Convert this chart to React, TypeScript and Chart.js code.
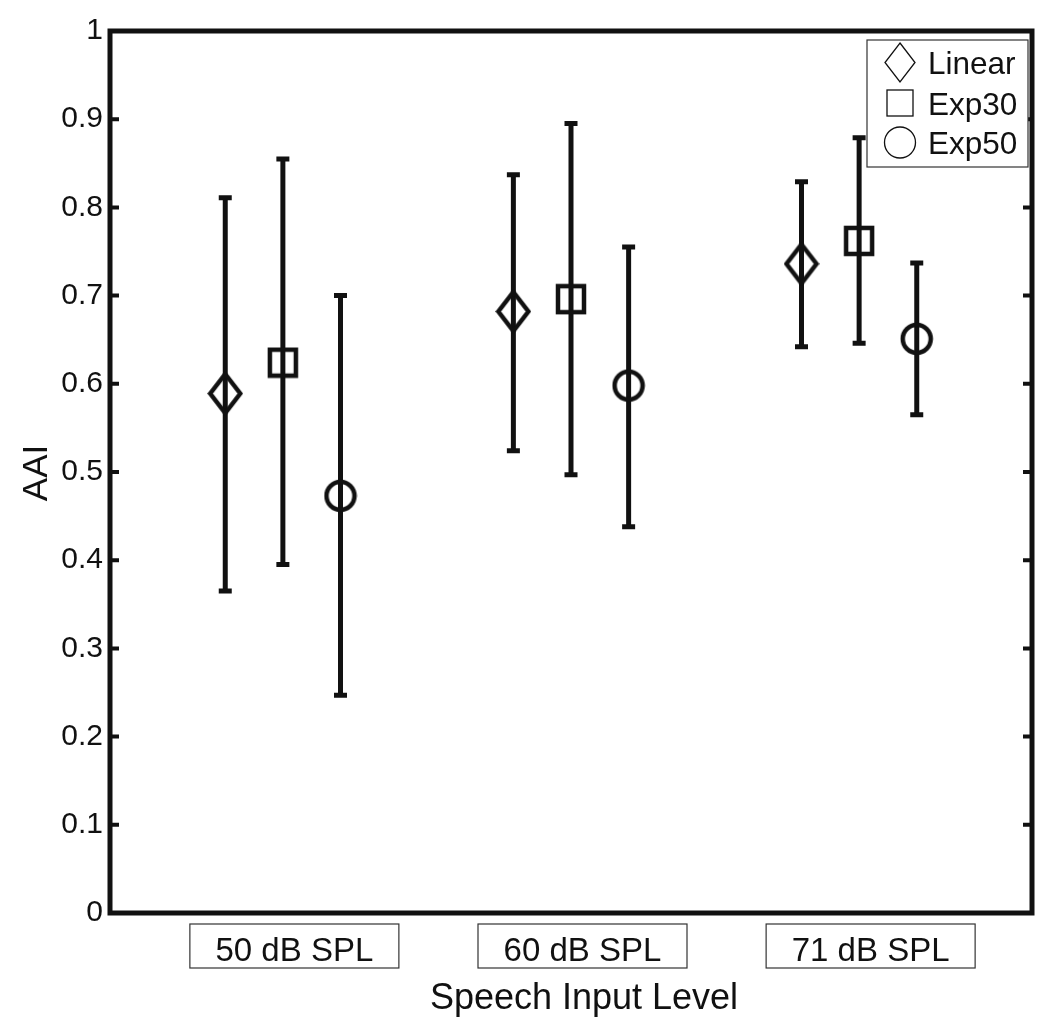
import React, { useEffect, useRef } from "react";
import { Chart, registerables } from "chart.js";

Chart.register(...registerables);

const CATEGORIES = ["50 dB SPL", "60 dB SPL", "71 dB SPL"];
const SERIES_NAMES = ["Linear", "Exp30", "Exp50"];

const LINEAR_MEAN = [0.589, 0.682, 0.736];
const LINEAR_LOW = [0.365, 0.524, 0.642];
const LINEAR_HIGH = [0.811, 0.837, 0.829];

const EXP30_MEAN = [0.624, 0.696, 0.762];
const EXP30_LOW = [0.395, 0.497, 0.646];
const EXP30_HIGH = [0.855, 0.895, 0.879];

const EXP50_MEAN = [0.473, 0.598, 0.651];
const EXP50_LOW = [0.247, 0.438, 0.565];
const EXP50_HIGH = [0.7, 0.755, 0.737];

const Y_AXIS_TITLE = "AAI";
const X_AXIS_TITLE = "Speech Input Level";

const FONT = "'Liberation Sans', Arial, Helvetica, sans-serif";
const INK = "#111";
const OFFSETS = [-0.2, 0, 0.2];

function makeMarker(kind: string): HTMLCanvasElement {
  const c = document.createElement("canvas");
  const lw = 4.5;
  let w = 0,
    h = 0;
  if (kind === "diamond") {
    w = 30;
    h = 39;
  } else if (kind === "square") {
    w = 26;
    h = 26;
  } else {
    w = 28;
    h = 28;
  }
  c.width = w + lw + 2;
  c.height = h + lw + 2;
  const ctx = c.getContext("2d")!;
  const cx = c.width / 2;
  const cy = c.height / 2;
  ctx.strokeStyle = INK;
  ctx.lineWidth = lw;
  ctx.lineJoin = "miter";
  ctx.beginPath();
  if (kind === "diamond") {
    ctx.moveTo(cx, cy - h / 2);
    ctx.lineTo(cx + w / 2, cy);
    ctx.lineTo(cx, cy + h / 2);
    ctx.lineTo(cx - w / 2, cy);
    ctx.closePath();
  } else if (kind === "square") {
    ctx.rect(cx - w / 2, cy - h / 2, w, h);
  } else {
    ctx.arc(cx, cy, w / 2, 0, Math.PI * 2);
  }
  ctx.stroke();
  return c;
}

const extrasPlugin = {
  id: "extras",
  beforeDatasetsDraw(chart: any) {
    const { ctx, scales } = chart;
    const xs = scales.x;
    const ys = scales.y;
    const lows = [LINEAR_LOW, EXP30_LOW, EXP50_LOW];
    const highs = [LINEAR_HIGH, EXP30_HIGH, EXP50_HIGH];
    ctx.save();
    ctx.strokeStyle = INK;
    ctx.lineWidth = 5;
    ctx.lineCap = "butt";
    for (let s = 0; s < 3; s++) {
      for (let i = 0; i < CATEGORIES.length; i++) {
        const x = xs.getPixelForValue(i + 1 + OFFSETS[s]);
        const y1 = ys.getPixelForValue(lows[s][i]);
        const y2 = ys.getPixelForValue(highs[s][i]);
        ctx.beginPath();
        ctx.moveTo(x, y1);
        ctx.lineTo(x, y2);
        ctx.stroke();
        ctx.beginPath();
        ctx.moveTo(x - 6.5, y1);
        ctx.lineTo(x + 6.5, y1);
        ctx.moveTo(x - 6.5, y2);
        ctx.lineTo(x + 6.5, y2);
        ctx.stroke();
      }
    }
    ctx.restore();
  },
  afterDraw(chart: any) {
    const { ctx, chartArea, scales } = chart;
    const xs = scales.x;
    const ys = scales.y;
    const { left, right, top, bottom } = chartArea;
    ctx.save();
    // frame
    ctx.strokeStyle = INK;
    ctx.lineWidth = 5;
    ctx.lineJoin = "miter";
    ctx.strokeRect(left, top, right - left, bottom - top);
    // inward ticks
    ctx.lineWidth = 4;
    ys.ticks.forEach((t: any) => {
      const y = ys.getPixelForValue(t.value);
      ctx.beginPath();
      ctx.moveTo(left, y);
      ctx.lineTo(left + 9, y);
      ctx.moveTo(right, y);
      ctx.lineTo(right - 9, y);
      ctx.stroke();
    });
    // category label boxes
    ctx.font = `33px ${FONT}`;
    ctx.fillStyle = INK;
    ctx.textAlign = "center";
    ctx.textBaseline = "alphabetic";
    CATEGORIES.forEach((label, i) => {
      const cx = xs.getPixelForValue(i + 1) + 11.5;
      ctx.lineWidth = 1.2;
      ctx.strokeStyle = "#333";
      ctx.strokeRect(cx - 104.5, bottom + 11, 209, 44);
      ctx.fillText(label, cx, bottom + 48);
    });
    // x title
    ctx.font = `36px ${FONT}`;
    ctx.fillText(X_AXIS_TITLE, (left + right) / 2 + 13, bottom + 96);
    // y title
    ctx.save();
    ctx.translate(47, (top + bottom) / 2 + 1);
    ctx.rotate(-Math.PI / 2);
    ctx.font = `35px ${FONT}`;
    ctx.fillText(Y_AXIS_TITLE, 0, 0);
    ctx.restore();
    // legend
    const bx = 867,
      by = 40,
      bw = 161,
      bh = 127;
    ctx.fillStyle = "#fff";
    ctx.fillRect(bx, by, bw, bh);
    ctx.strokeStyle = "#333";
    ctx.lineWidth = 1.2;
    ctx.strokeRect(bx, by, bw, bh);
    ctx.strokeStyle = INK;
    ctx.lineWidth = 1.3;
    const mx = 900;
    const rows = [62.5, 103, 142.5];
    // diamond
    ctx.beginPath();
    ctx.moveTo(mx, rows[0] - 19.5);
    ctx.lineTo(mx + 15, rows[0]);
    ctx.lineTo(mx, rows[0] + 19.5);
    ctx.lineTo(mx - 15, rows[0]);
    ctx.closePath();
    ctx.stroke();
    // square
    ctx.strokeRect(mx - 13, rows[1] - 13, 26, 26);
    // circle
    ctx.beginPath();
    ctx.arc(mx, rows[2], 15.5, 0, Math.PI * 2);
    ctx.stroke();
    ctx.fillStyle = INK;
    ctx.font = `31.5px ${FONT}`;
    ctx.textAlign = "left";
    SERIES_NAMES.forEach((name, i) => {
      ctx.fillText(name, 928, rows[i] + 11.5);
    });
    ctx.restore();
  },
};

export default function App() {
  const ref = useRef<HTMLCanvasElement>(null);
  useEffect(() => {
    if (!ref.current) return;
    const markers = [makeMarker("diamond"), makeMarker("square"), makeMarker("circle")];
    const means = [LINEAR_MEAN, EXP30_MEAN, EXP50_MEAN];
    const chart = new Chart(ref.current, {
      type: "scatter",
      data: {
        datasets: SERIES_NAMES.map((name, s) => ({
          label: name,
          data: means[s].map((v, i) => ({ x: i + 1 + OFFSETS[s], y: v })),
          pointStyle: markers[s] as any,
          pointRadius: 16,
          showLine: false,
          borderColor: INK,
          backgroundColor: "transparent",
        })),
      },
      options: {
        animation: false,
        responsive: false,
        devicePixelRatio: 1,
        layout: { padding: { left: 0, right: 18, top: 31, bottom: 106 } },
        plugins: { legend: { display: false }, tooltip: { enabled: false } },
        scales: {
          x: {
            type: "linear",
            min: 0.4,
            max: 3.6,
            display: false,
          },
          y: {
            type: "linear",
            min: 0,
            max: 1,
            grid: { display: false, drawTicks: false },
            border: { display: false },
            ticks: {
              stepSize: 0.1,
              padding: 7,
              color: INK,
              font: { size: 30, family: FONT },
              callback: (v: any) => String(Number(Number(v).toFixed(1))),
            },
            afterFit: (scale: any) => {
              scale.width = 110;
            },
          },
        },
      },
      plugins: [extrasPlugin],
    });
    return () => chart.destroy();
  }, []);
  return (
    <div style={{ position: "absolute", left: 0, top: 0, width: 1050, height: 1019, background: "#fff" }}>
      <canvas ref={ref} width={1050} height={1019} style={{ display: "block" }} />
    </div>
  );
}
